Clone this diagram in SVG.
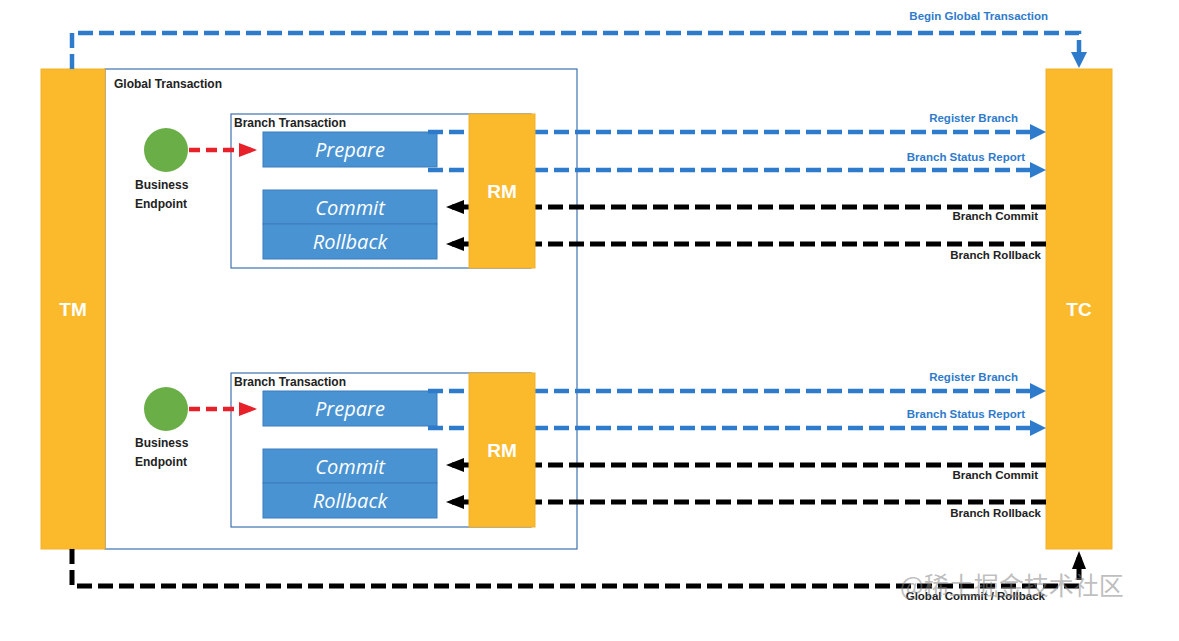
<svg xmlns="http://www.w3.org/2000/svg" width="1179" height="641" viewBox="0 0 1179 641">
<style>
.orange{fill:#FBBA2C;stroke:#F4B02A;stroke-width:1}
.frame{fill:none;stroke:#3F72AF;stroke-width:1.2}
.box{fill:#4A93D2;stroke:#3A7DBE;stroke-width:1}
.big{font-family:"Liberation Sans",Arial,sans-serif;font-weight:bold;fill:#fff;font-size:19px;text-anchor:middle}
.op{font-family:"Open Sans","Liberation Sans",sans-serif;font-style:italic;fill:#fff;font-size:20px;text-anchor:middle}
.title{font-family:"Liberation Sans",Arial,sans-serif;font-weight:bold;fill:#222;font-size:12px}
.lb{font-family:"Liberation Sans",Arial,sans-serif;font-weight:bold;font-size:11.5px;text-anchor:end}
.lblue{fill:#2F7BCB}
.lblack{fill:#222}
.blue{fill:none;stroke:#2F7BCB;stroke-width:4.5;stroke-dasharray:15 6}
.black{fill:none;stroke:#000;stroke-width:5;stroke-dasharray:15 6}
.red{fill:none;stroke:#E8202A;stroke-width:4.5;stroke-dasharray:11 6}
</style>
<defs>
<marker id="ab" markerUnits="userSpaceOnUse" viewBox="0 0 16 16" refX="10" refY="8" markerWidth="16" markerHeight="16" orient="auto"><path d="M0,0 L16,8 L0,16 z" fill="#2F7BCB"/></marker>
<marker id="ak" markerUnits="userSpaceOnUse" viewBox="0 0 18 14" refX="12" refY="7" markerWidth="18" markerHeight="14" orient="auto"><path d="M0,0 L18,7 L0,14 z" fill="#000"/></marker>
<marker id="ar" markerUnits="userSpaceOnUse" viewBox="0 0 18 14" refX="12" refY="7" markerWidth="18" markerHeight="14" orient="auto"><path d="M0,0 L18,7 L0,14 z" fill="#E8202A"/></marker>
</defs>
<rect width="1179" height="641" fill="#fff"/>

<g id="global-transaction">
<rect class="frame" x="105" y="69" width="472" height="480"/>
<text class="title" x="114" y="88">Global Transaction</text>
</g>
<g id="tm"><rect class="orange" x="41" y="69" width="64" height="480"/><text class="big" x="73" y="316">TM</text></g>
<g id="tc"><rect class="orange" x="1046" y="69" width="66" height="480"/><text class="big" x="1079" y="316">TC</text></g>

<g id="branch1">
<rect fill="#fff" class="frame" x="231" y="114" width="300" height="154"/>
<text class="title" x="234" y="127">Branch Transaction</text>
</g>
<g id="prepare1"><rect class="box" x="263" y="132" width="174" height="35"/><text class="op" x="350" y="157">Prepare</text></g>
<g id="commit1"><rect class="box" x="263" y="190" width="174" height="34"/><text class="op" x="350" y="215">Commit</text></g>
<g id="rollback1"><rect class="box" x="263" y="224" width="174" height="35"/><text class="op" x="350" y="249">Rollback</text></g>
<g id="endpoint1"><circle cx="166" cy="150" r="22" fill="#6AAE48"/><text class="title" x="135" y="189">Business</text><text class="title" x="135" y="208">Endpoint</text></g>

<g id="branch2">
<rect fill="#fff" class="frame" x="231" y="373" width="300" height="154"/>
<text class="title" x="234" y="386">Branch Transaction</text>
</g>
<g id="prepare2"><rect class="box" x="263" y="391" width="174" height="35"/><text class="op" x="350" y="416">Prepare</text></g>
<g id="commit2"><rect class="box" x="263" y="449" width="174" height="34"/><text class="op" x="350" y="474">Commit</text></g>
<g id="rollback2"><rect class="box" x="263" y="483" width="174" height="35"/><text class="op" x="350" y="508">Rollback</text></g>
<g id="endpoint2"><circle cx="166" cy="409" r="22" fill="#6AAE48"/><text class="title" x="135" y="447">Business</text><text class="title" x="135" y="466">Endpoint</text></g>

<g id="connectors">
<path class="blue" d="M72,69 V33 H1079 V62" marker-end="url(#ab)"/>
<text class="lb lblue" x="1048" y="20">Begin Global Transaction</text>
<path class="black" d="M72,549 V586 H1079 V557" marker-end="url(#ak)"/>
<text class="lb lblack" x="1045" y="600">Global Commit / Rollback</text>

<path class="red" d="M189,150 H251" marker-end="url(#ar)"/>
<path class="blue" d="M428,132 H1040" marker-end="url(#ab)"/>
<text class="lb lblue" x="1018" y="122">Register Branch</text>
<path class="blue" d="M428,170 H1040" marker-end="url(#ab)"/>
<text class="lb lblue" x="1025" y="161">Branch Status Report</text>
<path class="black" d="M1046,207 H452" marker-end="url(#ak)"/>
<text class="lb lblack" x="1038" y="220">Branch Commit</text>
<path class="black" d="M1046,244 H452" marker-end="url(#ak)"/>
<text class="lb lblack" x="1041" y="259">Branch Rollback</text>

<path class="red" d="M189,409 H251" marker-end="url(#ar)"/>
<path class="blue" d="M428,391 H1040" marker-end="url(#ab)"/>
<text class="lb lblue" x="1018" y="381">Register Branch</text>
<path class="blue" d="M428,428 H1040" marker-end="url(#ab)"/>
<text class="lb lblue" x="1025" y="418">Branch Status Report</text>
<path class="black" d="M1046,465 H452" marker-end="url(#ak)"/>
<text class="lb lblack" x="1038" y="479">Branch Commit</text>
<path class="black" d="M1046,502 H452" marker-end="url(#ak)"/>
<text class="lb lblack" x="1041" y="517">Branch Rollback</text>
</g>

<g id="rm1"><rect class="orange" x="469" y="114" width="66" height="154"/><text class="big" x="502" y="198">RM</text></g>
<g id="rm2"><rect class="orange" x="469" y="373" width="66" height="154"/><text class="big" x="502" y="457">RM</text></g>

<text x="900" y="595" font-family="'Noto Sans CJK SC',sans-serif" font-size="25" fill="#888" fill-opacity="0.55">@稀土掘金技术社区</text>
</svg>
